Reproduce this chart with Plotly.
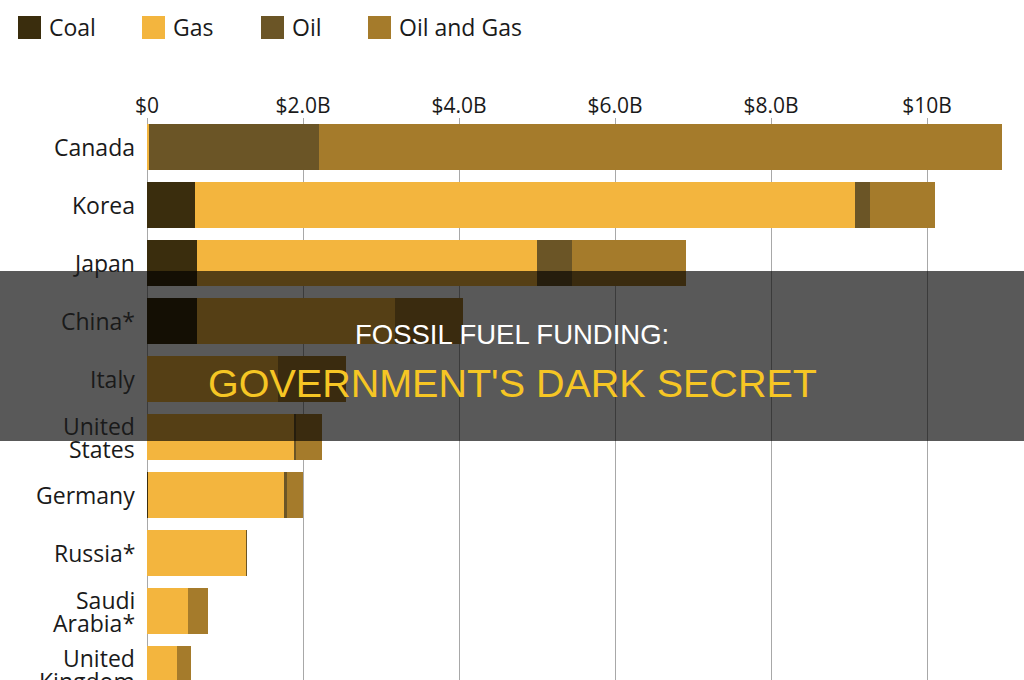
import plotly.graph_objects as go

# ---- data (billions USD) ----
countries = ["Canada", "Korea", "Japan", "China*", "Italy", "United<br>States",
             "Germany", "Russia*", "Saudi<br>Arabia*", "United<br>Kingdom"]
coal = [0.0, 0.62, 0.64, 0.64, 0.0, 0.0, 0.01, 0.0, 0.0, 0.0]
gas = [0.03, 8.46, 4.36, 2.54, 1.68, 1.89, 1.75, 1.27, 0.53, 0.38]
oil = [2.17, 0.19, 0.45, 0.0, 0.0, 0.02, 0.04, 0.01, 0.0, 0.0]
oil_and_gas = [8.76, 0.83, 1.46, 0.87, 0.87, 0.33, 0.20, 0.0, 0.25, 0.19]

series_names = ["Coal", "Gas", "Oil", "Oil and Gas"]
series_values = [coal, gas, oil, oil_and_gas]
series_colors = ["#3a2d0d", "#f3b53e", "#6b5526", "#a57b2b"]

tick_vals = [0, 2, 4, 6, 8, 10]
tick_text = ["$0", "$2.0B", "$4.0B", "$6.0B", "$8.0B", "$10B"]

title_line1 = "FOSSIL FUEL FUNDING:"
title_line2 = "GOVERNMENT'S DARK SECRET"

# ---- layout geometry ----
W, H = 1024, 680
ML, MR, MT, MB = 147, 0, 118, 0
PW, PH = W - ML - MR, H - MT - MB
ROW = 58.0          # pixels per category
FIRST_ROW = 147.0   # pixel centre of first category


def px_x(p):
    return (p - ML) / PW


def px_y(p):
    return (H - MB - p) / PH


fig = go.Figure()
for name, vals, col in zip(series_names, series_values, series_colors):
    fig.add_trace(go.Bar(
        y=countries, x=vals, name=name, orientation="h",
        marker=dict(color=col, line=dict(width=0)),
        width=0.79, showlegend=False,
    ))

shapes = []
annotations = []

# category labels (drawn as text so two-line labels get tight line spacing)
label_font = dict(family="Open Sans", size=23, color="#1a1a1a")
for i, lab in enumerate(countries):
    lines = lab.split("<br>")
    centre = FIRST_ROW + i * ROW
    n = len(lines)
    for j, ln in enumerate(lines):
        yc = centre + (j - (n - 1) / 2.0) * 23
        annotations.append(dict(xref="paper", yref="paper", x=px_x(137), y=px_y(yc),
                                text=ln, showarrow=False, xanchor="right", yanchor="middle",
                                font=label_font))

# manual legend (large square swatches)
legend_x = [18, 142, 261, 368]
for lx, name, col in zip(legend_x, series_names, series_colors):
    shapes.append(dict(type="rect", xref="paper", yref="paper",
                       x0=px_x(lx), x1=px_x(lx + 23), y0=px_y(39), y1=px_y(16),
                       fillcolor=col, line=dict(width=0), layer="above"))
    annotations.append(dict(xref="paper", yref="paper", x=px_x(lx + 29), y=px_y(27),
                            text=name, showarrow=False, xanchor="left", yanchor="middle",
                            font=dict(family="Open Sans", size=23, color="#1a1a1a")))

# dark translucent banner
shapes.append(dict(type="rect", xref="paper", yref="paper",
                   x0=px_x(0), x1=px_x(W), y0=px_y(441), y1=px_y(271),
                   fillcolor="rgba(0,0,0,0.65)", line=dict(width=0), layer="above"))
annotations.append(dict(xref="paper", yref="paper", x=px_x(512), y=px_y(334),
                        text=title_line1, showarrow=False, xanchor="center", yanchor="middle",
                        font=dict(family="Liberation Sans, Arial, sans-serif", size=27.5, color="#ffffff")))
annotations.append(dict(xref="paper", yref="paper", x=px_x(512), y=px_y(383),
                        text=title_line2, showarrow=False, xanchor="center", yanchor="middle",
                        font=dict(family="Liberation Sans, Arial, sans-serif", size=39.5, color="#f6c624")))

fig.update_layout(
    width=W, height=H,
    margin=dict(l=ML, r=MR, t=MT, b=MB, pad=0),
    barmode="stack",
    paper_bgcolor="white", plot_bgcolor="white",
    showlegend=False,
    shapes=shapes,
    annotations=annotations,
    xaxis=dict(side="top", range=[0, PW / 78.0], tickvals=tick_vals, ticktext=tick_text,
               automargin=False,
               showgrid=True, gridcolor="#a8a8a8", gridwidth=1,
               zeroline=True, zerolinecolor="#a8a8a8", zerolinewidth=1,
               showline=False, ticks="",
               tickfont=dict(family="Open Sans", size=21, color="#1a1a1a")),
    yaxis=dict(type="category", categoryorder="array", categoryarray=countries,
               range=[(H - MB - FIRST_ROW) / ROW, -0.5],
               automargin=False, showticklabels=False,
               showgrid=False, zeroline=False, showline=False, ticks=""),
)

fig.write_html("out.html")
